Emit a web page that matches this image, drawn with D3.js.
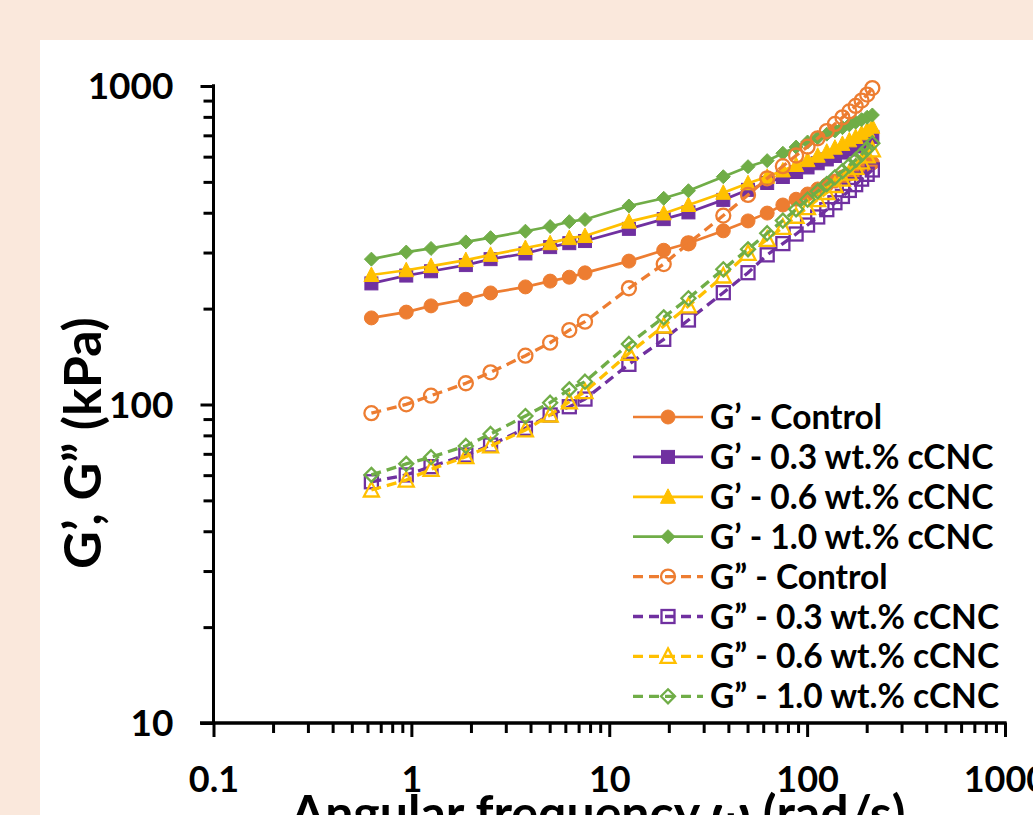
<!DOCTYPE html>
<html>
<head>
<meta charset="utf-8">
<script src="https://cdn.jsdelivr.net/npm/d3@7"></script>
<style>
  html, body { margin: 0; padding: 0; background: #fae8dc; }
  svg { display: block; }
  text { font-family: Lato, "Open Sans", sans-serif; font-weight: bold; fill: #000; }
</style>
</head>
<body>
<div id="chart"></div>
<script>
// angular frequency (rad/s)
const freq = [0.628, 0.942, 1.257, 1.885, 2.513, 3.77, 5.027, 6.283, 7.54,
  12.57, 18.85, 25.13, 37.7, 50.27, 62.83, 75.4, 87.96, 100.5, 113.1,
  125.7, 138.2, 150.8, 163.4, 175.9, 188.5, 201.1, 213.6];

// storage modulus G' (kPa)
const gpControl = [187, 195, 204, 214, 224, 234, 244, 251, 259, 282, 305, 321, 351, 377,
  399, 423, 441, 458, 475, 489, 503, 518, 529, 541, 553, 566, 573];
const gp03 = [240, 254, 262, 274, 286, 298, 312, 321, 326, 356, 382, 401, 439, 472,
  496, 518, 537, 555, 572, 588, 603, 618, 632, 646, 660, 675, 692];
const gp06 = [255, 264, 272, 284, 295, 310, 321, 333, 338, 375, 398, 423, 462, 495,
  519, 543, 565, 585, 604, 622, 640, 658, 675, 692, 710, 727, 745];
const gp10 = [286, 301, 309, 324, 334, 350, 362, 375, 381, 420, 444, 469, 519, 558,
  583, 615, 643, 667, 688, 706, 723, 740, 755, 770, 784, 798, 811];

// loss modulus G" (kPa)
const gppControl = [93.9, 100.1, 106.6, 116.6, 126.2, 142.3, 156.3, 171.3, 182, 231.7, 276, 320.7, 392, 455,
  513, 560, 605, 645, 685, 722, 760, 797, 832, 866, 900, 940, 985];
const gpp03 = [57.2, 60.1, 63.8, 69.4, 74.6, 84.2, 92.7, 98.4, 104, 133.7, 160.2, 184.2, 224.4, 259.3,
  295, 320, 343, 366, 388, 409, 430, 450, 470, 490, 510, 528, 545];
const gpp06 = [53.9, 57.9, 62.6, 68.6, 74.1, 83.2, 92.7, 102, 109.7, 144.8, 176.4, 203.9, 253.2, 298.4,
  330, 360, 390, 415, 440, 463, 487, 510, 533, 555, 578, 603, 630];
const gpp10 = [60.1, 65.1, 68.3, 74.1, 80.8, 92, 101.3, 111.6, 117.9, 154.9, 187.8, 215.5, 265.8, 307.2,
  345, 378, 410, 440, 467, 492, 517, 540, 563, 586, 610, 635, 661];

const seriesNames = ["G\u2019 - Control", "G\u2019 - 0.3 wt.% cCNC", "G\u2019 - 0.6 wt.% cCNC", "G\u2019 - 1.0 wt.% cCNC",
  "G\u201D - Control", "G\u201D - 0.3 wt.% cCNC", "G\u201D - 0.6 wt.% cCNC", "G\u201D - 1.0 wt.% cCNC"];
const seriesValues = [gpControl, gp03, gp06, gp10, gppControl, gpp03, gpp06, gpp10];
const seriesColors = ["#ED7D31", "#7030A0", "#FFC000", "#70AD47", "#ED7D31", "#7030A0", "#FFC000", "#70AD47"];
const seriesShapes = ["circle", "square", "triangle", "diamond", "circle", "square", "triangle", "diamond"];

const xTicks = [0.1, 1, 10, 100, 1000];
const yTicks = [10, 100, 1000];

const W = 1033, H = 815;
const svg = d3.select("#chart").append("svg").attr("width", W).attr("height", H);

// white panel
svg.append("rect").attr("x", 40).attr("y", 40).attr("width", W - 40).attr("height", H - 40).attr("fill", "#fff");

const x = d3.scaleLog().domain([0.1, 1000]).range([213.5, 1005]);
const y = d3.scaleLog().domain([10, 1000]).range([723, 86]);

const minorX = [], minorY = [];
for (let d = 0.1; d < 1000; d *= 10) for (let k = 2; k <= 9; k++) minorX.push(+(d * k).toPrecision(3));
for (let d = 10; d < 1000; d *= 10) for (let k = 2; k <= 9; k++) minorY.push(+(d * k).toPrecision(3));

function styleAxis(g) {
  g.select(".domain").attr("stroke", "#000").attr("stroke-width", 3);
  g.selectAll(".tick line").attr("stroke", "#000").attr("stroke-width", 3);
}

// x axis
const gx = svg.append("g").attr("transform", "translate(0,723)");
gx.append("g").call(d3.axisBottom(x).tickValues(minorX).tickSize(10).tickSizeOuter(0).tickFormat(""))
  .call(styleAxis);
gx.append("g").call(d3.axisBottom(x).tickValues(xTicks).tickSize(14).tickSizeOuter(0).tickFormat(d3.format("~g")))
  .call(styleAxis)
  .call(g => g.selectAll(".tick text").attr("font-size", 36).attr("dy", 0).attr("y", 69)
    .attr("font-family", "Lato").attr("font-weight", "bold").attr("fill", "#000"));
gx.selectAll(".domain").attr("d", `M200,0H${x(1000) + 1.5}`);

// y axis
const gy = svg.append("g").attr("transform", "translate(213.5,0)");
gy.append("g").call(d3.axisLeft(y).tickValues(minorY).tickSize(10).tickSizeOuter(0).tickFormat(""))
  .call(styleAxis);
gy.append("g").call(d3.axisLeft(y).tickValues(yTicks).tickSize(13).tickSizeOuter(0).tickFormat(d3.format("~g")))
  .call(styleAxis)
  .call(g => g.selectAll(".tick text").attr("font-size", 37).attr("x", -40).attr("dy", "0.35em")
    .attr("font-family", "Lato").attr("font-weight", "bold").attr("fill", "#000"));
gy.selectAll(".domain").attr("d", `M0,${y(1000) - 1.5}V723`);

// axis titles
svg.append("text").attr("x", 598).attr("y", 831).attr("text-anchor", "middle")
  .attr("font-size", 50).text("Angular frequency \u03C9 (rad/s)");
svg.append("text").attr("transform", "translate(101,443) rotate(-90)").attr("text-anchor", "middle")
  .attr("font-size", 52).text("G\u2019, G\u201D (kPa)");

function drawMarker(g, shape, color, open) {
  const s = 7;
  let el;
  if (shape === "circle") el = g.append("circle").attr("r", s);
  else if (shape === "square") el = g.append("rect").attr("x", -s + 0.5).attr("y", -s + 0.5).attr("width", 2 * s - 1).attr("height", 2 * s - 1);
  else if (shape === "triangle") el = g.append("path").attr("d", `M0,${-s - 1}L${s + 0.5},${s - 0.5}L${-s - 0.5},${s - 0.5}Z`);
  else el = g.append("path").attr("d", `M0,${-s}L${s},0L0,${s}L${-s},0Z`);
  if (open) el.attr("fill", "none").attr("stroke", color).attr("stroke-width", 2.3);
  else el.attr("fill", color).attr("stroke", color).attr("stroke-width", 1);
}

const line = d3.line().x(d => x(d[0])).y(d => y(d[1]));

seriesValues.forEach((vals, i) => {
  const open = i >= 4;
  const pts = freq.map((f, j) => [f, vals[j]]);
  const g = svg.append("g");
  g.append("path").datum(pts).attr("d", line).attr("fill", "none")
    .attr("stroke", seriesColors[i]).attr("stroke-width", open ? 3.3 : 2.7)
    .attr("stroke-dasharray", open ? "10,6" : null);
  pts.forEach(p => {
    const mg = g.append("g").attr("transform", `translate(${x(p[0])},${y(p[1])})`);
    drawMarker(mg, seriesShapes[i], seriesColors[i], open);
  });
});

// legend
const leg = svg.append("g");
seriesNames.forEach((name, i) => {
  const open = i >= 4;
  const ly = 417 + i * 39.9;
  const row = leg.append("g").attr("transform", `translate(0,${ly})`);
  row.append("line").attr("x1", 633).attr("x2", 703).attr("y1", 0).attr("y2", 0)
    .attr("stroke", seriesColors[i]).attr("stroke-width", open ? 3.3 : 2.7)
    .attr("stroke-dasharray", open ? "10,6" : null);
  drawMarker(row.append("g").attr("transform", "translate(668,0)"), seriesShapes[i], seriesColors[i], open);
  row.append("text").attr("x", 710).attr("y", 0).attr("dy", "0.36em").attr("font-size", 33.5).text(name);
});
</script>
</body>
</html>
